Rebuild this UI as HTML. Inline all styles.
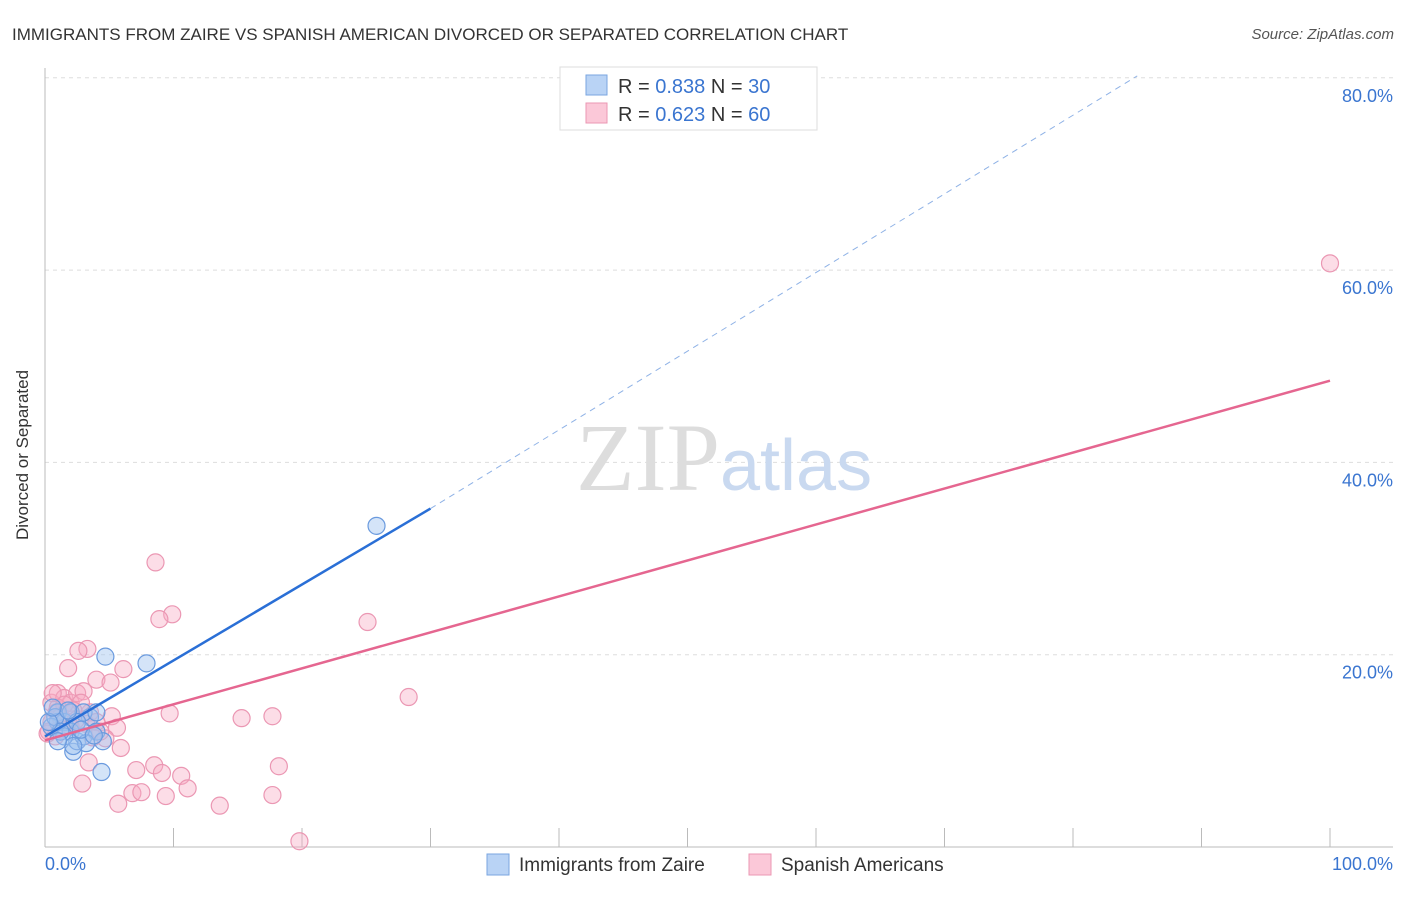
<!DOCTYPE html>
<html><head><meta charset="utf-8"><style>
body{margin:0;background:#fff;font-family:"Liberation Sans",sans-serif}
</style></head><body>
<svg width="1406" height="892" viewBox="0 0 1406 892">
<text x="12" y="40" font-size="17" fill="#333">IMMIGRANTS FROM ZAIRE VS SPANISH AMERICAN DIVORCED OR SEPARATED CORRELATION CHART</text>
<text x="1394" y="39" font-size="15" fill="#555" font-style="italic" text-anchor="end">Source: ZipAtlas.com</text>
<g id="grid"></g>
<text x="720" y="490" font-size="96" font-family="Liberation Serif" fill="#ddd" text-anchor="end">ZIP</text>
<text x="720" y="490" font-size="72" fill="#c9d9f0">atlas</text>
<line x1="45" y1="68" x2="45" y2="847" stroke="#bbb"/>
<line x1="45" y1="847" x2="1393" y2="847" stroke="#bbb"/>
<g id="ticks"></g>
<text x="28" y="455" font-size="17" fill="#333" transform="rotate(-90 28 455)" text-anchor="middle">Divorced or Separated</text>
<text x="45" y="870" font-size="18" fill="#3a75d0">0.0%</text>
<text x="1393" y="870" font-size="18" fill="#3a75d0" text-anchor="end">100.0%</text>
<g id="pts"></g>
<g id="lines"></g>
<g>
<rect x="560" y="67" width="257" height="63" fill="#fff" stroke="#ddd"/>
<rect x="586" y="75" width="21" height="20" fill="#b9d3f5" stroke="#7aa6e0"/>
<rect x="586" y="103" width="21" height="20" fill="#fbc8d8" stroke="#eb97b3"/>
<text x="618" y="93" font-size="20" fill="#333">R = <tspan fill="#3a75d0">0.838</tspan>   N = <tspan fill="#3a75d0">30</tspan></text>
<text x="618" y="121" font-size="20" fill="#333">R = <tspan fill="#3a75d0">0.623</tspan>   N = <tspan fill="#3a75d0">60</tspan></text>
</g>
<g>
<rect x="487" y="854" width="22" height="21" fill="#b9d3f5" stroke="#7aa6e0"/>
<text x="519" y="871" font-size="19" fill="#333">Immigrants from Zaire</text>
<rect x="749" y="854" width="22" height="21" fill="#fbc8d8" stroke="#eb97b3"/>
<text x="781" y="871" font-size="19" fill="#333">Spanish Americans</text>
</g>
</svg>
<script>
const yTicks=[20,40,60,80];
const yTickLabels=["20.0%","40.0%","60.0%","80.0%"];
const xTicks=[0,10,20,30,40,50,60,70,80,90,100];
const zaireX=[25.8,7.9,4.7,4.4,2.2,1,1.5,2,2.5,3,3.5,4,4.5,1,0.5,2,3,1.5,2.5,0.8,4,3.2,1.2,2.8,0.3,1.8,3.8,2.2,1,0.6];
const zaireY=[33.4,19.1,19.8,7.8,9.9,14,13,12,11,11.5,13.5,12,11,13,12.5,14,14,11.5,13,13.5,14,10.8,12,12.2,13,14.2,11.6,10.5,11,14.5];
const spanX=[8.6,9.9,8.9,25.1,3.3,2.6,1.8,6.1,100,28.3,4,5.1,5.2,9.7,15.3,17.7,5.6,5.9,4.7,18.2,8.5,7.1,9.1,10.6,11.1,2.9,3.4,6.8,7.5,9.4,5.7,13.6,17.7,19.8,0.5,1,1.5,2,2.5,3,1,0.5,0.3,1.2,2,0.8,1.5,3.5,2.8,0.2,1.8,3.2,4,0.6,2.2,1.3,0.9,3.7,2.4,4.3];
const spanY=[29.6,24.2,23.7,23.4,20.6,20.4,18.6,18.5,60.7,15.6,17.4,17.1,13.6,13.9,13.4,13.6,12.4,10.3,11.3,8.4,8.5,8,7.7,7.4,6.1,6.6,8.8,5.6,5.7,5.3,4.5,4.3,5.4,0.6,15,16,15.5,15,16,16.2,14.5,13,12,13.5,12.5,11.5,14.8,14,15,11.8,13,12.8,13,16,14.2,12.2,14,11.4,13.2,12];
const zaireTrend=[[0,11.5],[30,35.2],[85,80.2]];
const spanTrend=[[0,11.1],[100,48.5]];
const X=v=>45+v*12.85, Y=v=>847-v*9.615;
const NS="http://www.w3.org/2000/svg";
function mk(t,a,p){const e=document.createElementNS(NS,t);for(const k in a)e.setAttribute(k,a[k]);p.appendChild(e);return e;}
const grid=document.getElementById('grid');
yTicks.forEach((v,i)=>{
 const l=mk('line',{x1:45,x2:1393,y1:Y(v),y2:Y(v),stroke:'#ddd','stroke-dasharray':'4,4'},grid);
 
 
 const t=mk('text',{x:1393,y:Y(v)+24,'font-size':18,fill:'#3a75d0','text-anchor':'end'},grid);
 t.textContent=yTickLabels[i];
 
 
});
const ticks=document.getElementById('ticks');
xTicks.forEach(v=>{
 const l=mk('line',{x1:X(v),x2:X(v),y1:828,y2:847,stroke:'#bbb'},ticks);
 
 
});
const pts=document.getElementById('pts');
spanX.forEach((v,i)=>{
 const c=mk('circle',{cx:X(v),cy:Y(spanY[i]),r:8.5,fill:'rgba(248,170,195,0.4)',stroke:'#eb97b3','stroke-width':1.2},pts);
 
 
});
zaireX.forEach((v,i)=>{
 const c=mk('circle',{cx:X(v),cy:Y(zaireY[i]),r:8.5,fill:'rgba(160,195,240,0.45)',stroke:'#6a9ade','stroke-width':1.2},pts);
 
 
});
const lines=document.getElementById('lines');
let a=mk('line',{x1:X(zaireTrend[0][0]),y1:Y(zaireTrend[0][1]),x2:X(zaireTrend[1][0]),y2:Y(zaireTrend[1][1]),stroke:'#2a6fd6','stroke-width':2.5},lines);


a=mk('line',{x1:X(zaireTrend[1][0]),y1:Y(zaireTrend[1][1]),x2:X(zaireTrend[2][0]),y2:Y(zaireTrend[2][1]),stroke:'#8fb2e6','stroke-width':1,'stroke-dasharray':'6,5'},lines);


a=mk('line',{x1:X(spanTrend[0][0]),y1:Y(spanTrend[0][1]),x2:X(spanTrend[1][0]),y2:Y(spanTrend[1][1]),stroke:'#e56690','stroke-width':2.5},lines);


</script>
</body></html>
